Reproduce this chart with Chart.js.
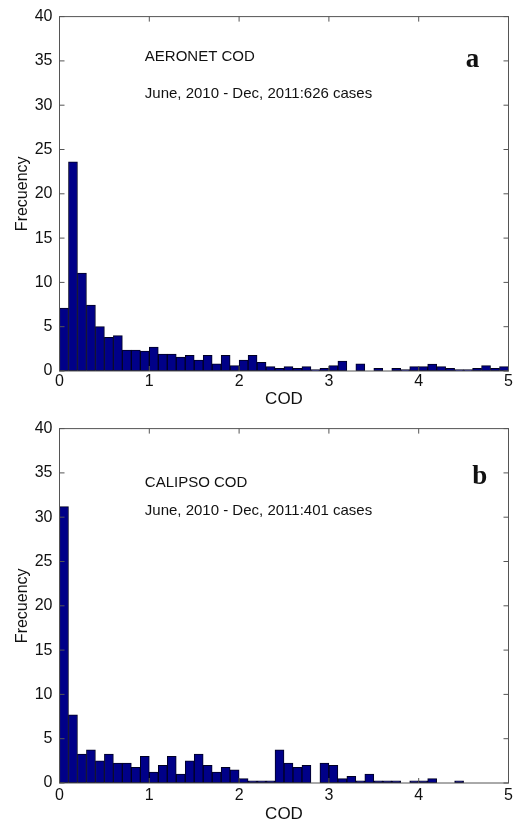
<!DOCTYPE html>
<html>
<head>
<meta charset="utf-8">
<script src="https://cdn.jsdelivr.net/npm/chart.js@4.4.1/dist/chart.umd.min.js"></script>
<style>
  html, body { margin: 0; padding: 0; background: #fff; }
  #wrap { position: relative; width: 517px; height: 823px; }
  canvas { position: absolute; left: 0; }
</style>
</head>
<body>
<div id="wrap">
  <canvas id="chartA" width="517" height="412" style="top:0"></canvas>
  <canvas id="chartB" width="517" height="411" style="top:412px"></canvas>
</div>
<script>
// histogram bins of COD, 0 to 5 in steps of 0.1
const BIN_WIDTH = 0.1;
const xTicks = [0, 1, 2, 3, 4, 5];
const yTicks = [0, 5, 10, 15, 20, 25, 30, 35, 40];

// frequency (%) per bin
const aeronetFreq = [7.1, 23.6, 11.05, 7.45, 5.0, 3.8, 4.0, 2.36, 2.36, 2.25,
    2.7, 1.9, 1.9, 1.57, 1.76, 1.24, 1.76, 0.82, 1.76, 0.6,
    1.24, 1.76, 0.97, 0.5, 0.3, 0.49, 0.3, 0.49, 0.15, 0.3,
    0.6, 1.12, 0, 0.8, 0, 0.3, 0, 0.3, 0.15, 0.49,
    0.49, 0.79, 0.49, 0.3, 0.15, 0.15, 0.3, 0.6, 0.3, 0.49];

const calipsoFreq = [31.2, 7.7, 3.26, 3.75, 2.5, 3.26, 2.25, 2.25, 1.76, 3.0,
    1.24, 2.0, 3.0, 1.0, 2.5, 3.26, 2.0, 1.24, 1.76, 1.5,
    0.5, 0.25, 0.25, 0.25, 3.75, 2.25, 1.76, 2.0, 0, 2.25,
    2.0, 0.5, 0.75, 0.25, 1.0, 0.25, 0.25, 0.25, 0, 0.25,
    0.25, 0.5, 0, 0, 0.25, 0, 0, 0, 0, 0];

const binCenters = aeronetFreq.map((_, i) => +(BIN_WIDTH * i + BIN_WIDTH / 2).toFixed(2));

const panelA = { name: 'AERONET COD', period: 'June, 2010 - Dec, 2011:626 cases', letter: 'a',
    nameY: 35, periodY: 30.8, letterX: 4.6, letterY: 34.3, tickPad: 1, titlePad: 2 };
const panelB = { name: 'CALIPSO COD', period: 'June, 2010 - Dec, 2011:401 cases', letter: 'b',
    nameY: 33.4, periodY: 30.3, letterX: 4.68, letterY: 33.8, tickPad: 3, titlePad: -2 };

const axisColor = '#555';
const textColor = '#111';

// MATLAB style box with inward ticks plus the text notes
const boxPlugin = {
    id: 'matlabBox',
    afterDraw(chart, args, opts) {
        const { ctx, chartArea: a, scales: { x, y } } = chart;
        const t = 5;
        ctx.save();
        ctx.strokeStyle = axisColor;
        ctx.lineWidth = 1;
        ctx.strokeRect(a.left, a.top, a.right - a.left, a.bottom - a.top);
        ctx.beginPath();
        xTicks.forEach(v => {
            const px = x.getPixelForValue(v);
            ctx.moveTo(px, a.bottom); ctx.lineTo(px, a.bottom - t);
            ctx.moveTo(px, a.top); ctx.lineTo(px, a.top + t);
        });
        yTicks.forEach(v => {
            const py = y.getPixelForValue(v);
            ctx.moveTo(a.left, py); ctx.lineTo(a.left + t, py);
            ctx.moveTo(a.right, py); ctx.lineTo(a.right - t, py);
        });
        ctx.stroke();

        const p = opts.panel;
        ctx.fillStyle = textColor;
        ctx.textBaseline = 'alphabetic';
        ctx.textAlign = 'left';
        ctx.font = '15px "Liberation Sans", Arial, sans-serif';
        ctx.fillText(p.name, x.getPixelForValue(0.95), y.getPixelForValue(p.nameY));
        ctx.fillText(p.period, x.getPixelForValue(0.95), y.getPixelForValue(p.periodY));
        ctx.textAlign = 'center';
        ctx.font = 'bold 27px "Liberation Serif", "Times New Roman", serif';
        ctx.fillText(p.letter, x.getPixelForValue(p.letterX), y.getPixelForValue(p.letterY));
        ctx.restore();
    }
};

function makeHistogram(canvasId, values, panel, topPad, xAxisHeight) {
    const ctx = document.getElementById(canvasId).getContext('2d');
    return new Chart(ctx, {
        type: 'bar',
        data: {
            datasets: [{
                data: values.map((v, i) => ({ x: binCenters[i], y: v })),
                backgroundColor: '#000088',
                borderColor: '#000022',
                borderWidth: 1,
                borderSkipped: false,
                barPercentage: 1,
                categoryPercentage: 1
            }]
        },
        options: {
            responsive: false,
            animation: false,
            layout: { padding: { top: topPad, right: 8.5, bottom: 0, left: 0 } },
            plugins: {
                legend: { display: false },
                tooltip: { enabled: false },
                matlabBox: { panel: panel }
            },
            scales: {
                x: {
                    type: 'linear',
                    min: 0,
                    max: 5,
                    offset: false,
                    grid: { display: false, drawTicks: false, offset: false },
                    border: { display: false },
                    afterFit: s => { s.height = xAxisHeight; },
                    afterBuildTicks: s => { s.ticks = xTicks.map(v => ({ value: v })); },
                    ticks: {
                        padding: panel.tickPad,
                        maxRotation: 0,
                        color: textColor,
                        font: { family: '"Liberation Sans", Arial, sans-serif', size: 16 }
                    },
                    title: {
                        display: true,
                        text: 'COD',
                        color: textColor,
                        padding: { top: 0, bottom: panel.titlePad },
                        font: { family: '"Liberation Sans", Arial, sans-serif', size: 17 }
                    }
                },
                y: {
                    min: 0,
                    max: 40,
                    grid: { display: false, drawTicks: false },
                    border: { display: false },
                    afterFit: s => { s.width = 59.5; },
                    afterBuildTicks: s => { s.ticks = yTicks.map(v => ({ value: v })); },
                    ticks: {
                        padding: 7,
                        color: textColor,
                        font: { family: '"Liberation Sans", Arial, sans-serif', size: 16 }
                    },
                    title: {
                        display: true,
                        text: 'Frecuency',
                        color: textColor,
                        padding: { top: 13, bottom: 0 },
                        font: { family: '"Liberation Sans", Arial, sans-serif', size: 16 }
                    }
                }
            }
        },
        plugins: [boxPlugin]
    });
}

makeHistogram('chartA', aeronetFreq, panelA, 15, 41);
makeHistogram('chartB', calipsoFreq, panelB, 15.5, 40);
</script>
</body>
</html>
